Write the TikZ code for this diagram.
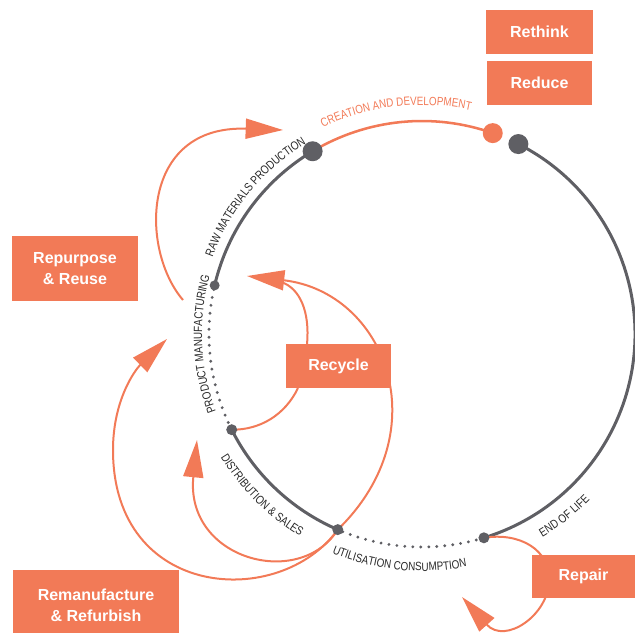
\documentclass[tikz,border=0pt]{standalone}
\usepackage{fontspec}
\usetikzlibrary{arrows.meta,decorations.text,calc}
\newfontfamily\boxfont{Liberation Sans}
\newfontfamily\lblfont[FakeStretch=0.82]{Liberation Sans}
\definecolor{ora}{HTML}{F27A57}
\definecolor{gry}{RGB}{95,95,100}
\definecolor{txtg}{RGB}{40,40,40}
\begin{document}
\begin{tikzpicture}[x=0.75pt,y=0.75pt,
  box/.style={fill=ora, text=white, font=\boxfont\bfseries\fontsize{12}{15.75}\selectfont, align=center, inner sep=0pt},
  ring/.style={draw=gry, line width=2.25pt},
  ringdot/.style={draw=gry, line width=2.4pt, line cap=round, dash pattern=on 0pt off 6pt},
  flow/.style={draw=ora, line width=1.5pt},
  tipped/.style={-{Triangle[length=28pt,width=15pt]}},
  bigdot/.style={fill=gry},
]
\useasboundingbox (0,0) rectangle (635,-632);
\coordinate (C) at (422,-334);
\def\R{213}
% dots on the ring
\coordinate (raw)  at ($(C)+(120.9:\R)$);
\coordinate (crea) at ($(C)+(70.6:\R)$);
\coordinate (eolt) at ($(C)+(63.1:\R)$);
\coordinate (manu) at ($(C)+(166.8:\R)$);
\coordinate (dist) at ($(C)+(206.7:\R)$);
\coordinate (use)  at ($(C)+(246.7:\R)$);
\coordinate (eol)  at ($(C)+(286.9:\R)$);
% ring
\draw[ring] (eolt) arc (63.1:-73.1:\R);
\draw[ringdot] (eol) arc (-73.1:-113.3:\R);
\draw[ring] (use) arc (246.7:206.7:\R);
\draw[ringdot] (dist) arc (206.7:166.8:\R);
\draw[ring] (manu) arc (166.8:120.9:\R);
\draw[draw=ora, line width=1.9pt] (raw) arc (120.9:70.6:\R);
% arc labels
\path[decorate, decoration={text along path, text align=center, text color=ora,
  text={|\lblfont\fontsize{9}{10}\selectfont|CREATION AND DEVELOPMENT}}]
  ($(C)+(126.7:229)$) arc (126.7:66.7:229);
\path[decorate, decoration={text along path, text align=center, text color=txtg,
  text={|\lblfont\fontsize{9}{10}\selectfont|RAW MATERIALS PRODUCTION}}]
  ($(C)+(170.6:223)$) arc (170.6:110.6:223);
\path[decorate, decoration={text along path, text align=center, text color=txtg,
  text={|\lblfont\fontsize{9}{10}\selectfont|PRODUCT MANUFACTURING}}]
  ($(C)+(212.6:220)$) arc (212.6:152.6:220);
\path[decorate, decoration={text along path, text align=center, text color=txtg,
  text={|\lblfont\fontsize{9}{10}\selectfont|DISTRIBUTION {\&} SALES}}]
  ($(C)+(195.2:236)$) arc (195.2:255.2:236);
\path[decorate, decoration={text along path, text align=center, text color=txtg,
  text={|\lblfont\fontsize{9}{10}\selectfont|UTILISATION CONSUMPTION}}]
  ($(C)+(234.3:237)$) arc (234.3:294.3:237);
\path[decorate, decoration={text along path, text align=center, text color=txtg,
  text={|\lblfont\fontsize{9}{10}\selectfont|END OF LIFE}}]
  ($(C)+(288:236)$) arc (288:328:236);
% flow connector points
\coordinate (aS) at (183,-300);
\coordinate (aT) at (283,-130);
\coordinate (rT) at (247,-276);
\coordinate (rB) at (281,-282);
\coordinate (rTop) at (307,-344);
\coordinate (rBot) at (298,-388);
\coordinate (dT) at (197,-440);
\coordinate (mT) at (167,-339);
\coordinate (mL) at (113,-450);
\coordinate (pR) at (549,-580);
\coordinate (pT) at (462,-597);
% flows
\draw[flow, tipped] (aS) .. controls (140,-250) and (140,-125) .. (aT);
\draw[flow, tipped] (use) .. controls (440,-430) and (385,-292) .. (rT);
\draw[flow] (rTop) .. controls (310,-312) and (300,-288) .. (rB);
\draw[flow] (rBot) .. controls (285,-415) and (260,-430) .. (dist);
\draw[flow, tipped] (use) .. controls (300,-590) and (185,-560) .. (dT);
\draw[flow, tipped] (use) .. controls (280,-610) and (113,-600) .. (mL)
  .. controls (113,-400) and (135,-370) .. (mT);
\draw[flow, tipped] (eol) .. controls (520,-532) and (550,-550) .. (pR)
  .. controls (549,-615) and (505,-645) .. (pT);
% dots
\fill[gry] (raw) circle (10);
\fill[gry] (eolt) circle (10);
\fill[ora] (crea) circle (10);
\fill[gry] (manu) circle (5);
\fill[gry] (dist) circle (5.5);
\fill[gry] (use) circle (5.5);
\fill[gry] (eol) circle (5.5);
% boxes
\node[box, minimum width=80.25pt, minimum height=33pt] (rethink) at (539.5,-32) {Rethink};
\node[box, minimum width=78.75pt, minimum height=33pt] (reduce) at (539.5,-83) {Reduce};
\node[box, minimum width=94.5pt, minimum height=48.75pt] (repurpose) at (75,-268.5) {Repurpose\\\& Reuse};
\node[box, minimum width=78.75pt, minimum height=33pt] (recycle) at (338.5,-366) {Recycle};
\node[box, minimum width=124.5pt, minimum height=52.5pt] (reman) at (96,-605) {Remanufacture\\\& Refurbish};
\node[box, minimum width=77.25pt, minimum height=32.25pt] (repair) at (583.5,-576.5) {Repair};
\end{tikzpicture}
\end{document}
